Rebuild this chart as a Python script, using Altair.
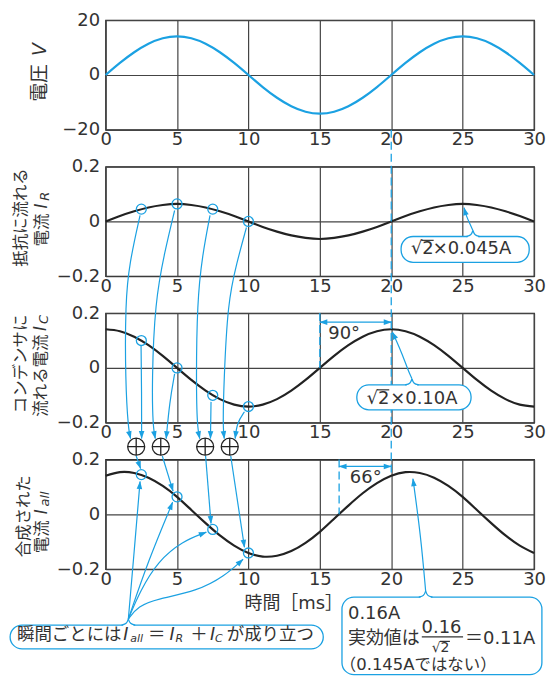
import math
import altair as alt
import pandas as pd

# ---------------- data ----------------
t_ms = [0, 1, 2, 3, 4, 5, 6, 7, 8, 9, 10, 11, 12, 13, 14, 15, 16, 17, 18, 19, 20,
        21, 22, 23, 24, 25, 26, 27, 28, 29, 30]
voltage = [0, 4.4, 8.3, 11.4, 13.4, 14.1, 13.4, 11.4, 8.3, 4.4, 0, -4.4, -8.3, -11.4,
           -13.4, -14.1, -13.4, -11.4, -8.3, -4.4, 0, 4.4, 8.3, 11.4, 13.4, 14.1, 13.4,
           11.4, 8.3, 4.4, 0]
i_r = [0, 0.020, 0.037, 0.051, 0.060, 0.064, 0.060, 0.051, 0.037, 0.020, 0, -0.020,
       -0.037, -0.051, -0.060, -0.064, -0.060, -0.051, -0.037, -0.020, 0, 0.020, 0.037,
       0.051, 0.060, 0.064, 0.060, 0.051, 0.037, 0.020, 0]
i_c = [0.141, 0.134, 0.114, 0.083, 0.044, 0, -0.044, -0.083, -0.114, -0.134, -0.141,
       -0.134, -0.114, -0.083, -0.044, 0, 0.044, 0.083, 0.114, 0.134, 0.141, 0.134,
       0.114, 0.083, 0.044, 0, -0.044, -0.083, -0.114, -0.134, -0.141]
i_all = [0.141, 0.154, 0.151, 0.134, 0.104, 0.064, 0.016, -0.032, -0.077, -0.114,
         -0.141, -0.154, -0.151, -0.134, -0.104, -0.064, -0.016, 0.032, 0.077, 0.114,
         0.141, 0.154, 0.151, 0.134, 0.104, 0.064, 0.016, -0.032, -0.077, -0.114, -0.141]

sample_t = [2.5, 5, 7.5, 10]
sample_ir = [0.045, 0.064, 0.045, 0.0]
sample_ic = [0.100, 0.0, -0.100, -0.141]
sample_iall = [0.145, 0.064, -0.055, -0.141]
plus_t = [2.14, 3.86, 6.97, 8.69]
plus_level = 0.247

x_ticks = [0, 5, 10, 15, 20, 25, 30]
v_ticks = [-20, 0, 20]
i_ticks = [-0.2, 0, 0.2]

# ---------------- layout / style ----------------
W, H, GAP = 430, 110, 37
BLUE = "#1BA1E2"
INK = "#222222"
TXT = "#333333"
FONT = "DejaVu Sans, Noto Sans CJK JP, sans-serif"
CJK = "Noto Sans CJK JP, sans-serif"

DOM = {"V": (-20.0, 20.0), "R": (-0.2, 0.2), "C": (-0.2, 0.2), "A": (-0.2, 0.2)}
IDX = {"V": 0, "R": 1, "C": 2, "A": 3}


def to_a(panel, v):
    """value in a panel's units -> equivalent value in the bottom panel's units"""
    lo, hi = DOM[panel]
    off = IDX[panel] * (H + GAP) + (hi - v) / (hi - lo) * H
    return 0.2 - (off - 3 * (H + GAP)) / H * 0.4


def pix(t, a):
    return t / 30 * W, (0.2 - a) / 0.4 * H


def unpix(x, y):
    return x / W * 30, 0.2 - y / H * 0.4


xs = alt.Scale(domain=[0, 30], nice=False, zero=False)
ys_i = alt.Scale(domain=[-0.2, 0.2], nice=False, zero=False)
ys_v = alt.Scale(domain=[-20, 20], nice=False, zero=False)
x_axis = alt.Axis(values=x_ticks, title=None, labelFlush=False, labelOverlap=False)


def y_axis(vals, fmt):
    return alt.Axis(values=vals, title=None, format=fmt, labelOverlap=False)


XA = alt.X("t:Q", scale=xs, axis=x_axis)
YA = alt.Y("y:Q", scale=ys_i, axis=y_axis(i_ticks, "~g"))

# ---------------- annotation geometry (ms, panel, value) ----------------
connectors = {
    "R1": [(2.41, "R", 0.022), (1.66, "R", -0.153), (1.38, "C", 0.24), (1.38, "C", -0.051), (1.59, "C", -0.225), (1.75, "C", -0.258)],
    "R2": [(4.83, "R", 0.040), (4.14, "R", -0.109), (3.45, "C", 0.24), (3.24, "C", -0.051), (3.31, "C", -0.215), (3.48, "C", -0.258)],
    "R3": [(7.31, "R", 0.022), (6.76, "R", -0.127), (6.41, "C", 0.24), (6.34, "C", -0.051), (6.41, "C", -0.215), (6.59, "C", -0.258)],
    "R4": [(9.86, "R", -0.022), (9.17, "R", -0.153), (8.55, "C", 0.24), (8.28, "C", -0.051), (8.21, "C", -0.215), (8.31, "C", -0.258)],
    "C1": [(2.48, "C", 0.080), (2.52, "C", -0.087), (2.52, "C", -0.258)],
    "C2": [(4.83, "C", -0.022), (4.48, "C", -0.124), (4.24, "C", -0.258)],
    "C3": [(7.38, "C", -0.124), (7.36, "C", -0.196), (7.34, "C", -0.258)],
    "C4": [(9.72, "C", -0.160), (9.20, "C", -0.200), (9.07, "C", -0.258)],
    "D1": [(2.14, "A", 0.213), (2.45, "A", 0.167)],
    "D2": [(3.97, "A", 0.213), (4.72, "A", 0.085)],
    "D3": [(7.00, "A", 0.213), (7.38, "A", -0.033)],
    "D4": [(8.76, "A", 0.213), (9.72, "A", -0.120)],
    "B1": [(1.59, "A", -0.382), (2.00, "A", -0.135), (2.41, "A", 0.120)],
    "B2": [(1.59, "A", -0.382), (2.97, "A", -0.171), (4.69, "A", 0.044)],
    "B3": [(1.59, "A", -0.382), (2.41, "A", -0.280), (3.66, "A", -0.171), (5.38, "A", -0.098), (7.05, "A", -0.065)],
    "B4": [(1.59, "A", -0.382), (2.28, "A", -0.335), (3.59, "A", -0.309), (6.41, "A", -0.280), (8.34, "A", -0.225), (9.62, "A", -0.164)],
    "PR": [(25.72, "R", -0.033), (25.52, "R", -0.010), (25.24, "R", 0.022), (25.10, "R", 0.050)],
    "PC": [(21.45, "C", -0.040), (21.17, "C", -0.007), (20.76, "C", 0.051), (20.34, "C", 0.102), (20.07, "C", 0.131)],
    "PA": [(22.41, "A", -0.280), (22.07, "A", -0.080), (21.52, "A", 0.130)],
}
double_arrows = {
    "H90": [(15.0, "C", 0.167), (20.0, "C", 0.167)],
    "H66": [(16.35, "A", 0.175), (20.0, "A", 0.175)],
}
dashed = {
    "DL20": [(20.0, "V", -20.0), (20.0, "A", 0.140)],
    "DL15": [(15.0, "C", 0.2), (15.0, "C", 0.0)],
    "DL66": [(16.35, "A", 0.2), (16.35, "A", 0.0)],
}
# boxes: t1, t2, panel, v_top, v_bottom, notch_t
boxes = [
    (20.69, 29.66, "R", -0.055, -0.149, 25.72),
    (17.59, 25.59, "C", -0.062, -0.153, 21.45),
    (-6.69, 15.24, "A", -0.404, -0.491, 1.59),
    (16.55, 30.55, "A", -0.302, -0.585, 22.41),
]
# overlines / fraction bar: t1, t2, panel, value
bars = [
    (22.10, 22.97, "R", -0.069),
    (19.00, 19.86, "C", -0.080),
    (23.41, 24.11, "A", -0.4636),
    (22.14, 25.03, "A", -0.447),
]


def path_rows(paths):
    rows = []
    for name, pts in paths.items():
        for i, (t, p, v) in enumerate(pts):
            rows.append({"id": name, "i": i, "t": t, "y": to_a(p, v)})
    return pd.DataFrame(rows)


def head(prev, end):
    x0, y0 = pix(*prev)
    x1, y1 = pix(*end)
    dx, dy = x1 - x0, y1 - y0
    L = math.hypot(dx, dy) or 1.0
    ux, uy = dx / L, dy / L
    t, y = unpix(x1 - ux * 3.5, y1 - uy * 3.5)
    return {"t": t, "y": y, "ang": math.degrees(math.atan2(ux, -uy)) % 360}


heads = []
for pts in connectors.values():
    a = [(t, to_a(p, v)) for t, p, v in pts]
    heads.append(head(a[-2], a[-1]))
for pts in double_arrows.values():
    a = [(t, to_a(p, v)) for t, p, v in pts]
    heads.append(head(a[0], a[1]))
    heads.append(head(a[1], a[0]))

notch_rows, cover_rows, box_rows = [], [], []
for k, (t1, t2, p, vt, vb, tn) in enumerate(boxes):
    box_rows.append({"t": t1, "t2": t2, "y": to_a(p, vt), "y2": to_a(p, vb)})
    cover_rows += [{"id": k, "i": 0, "t": tn - 0.36, "y": to_a(p, vt)},
                   {"id": k, "i": 1, "t": tn + 0.36, "y": to_a(p, vt)}]
    for side in (-1, 1):
        nid = f"{k}{side}"
        notch_rows += [
            {"id": nid, "i": 0, "t": tn + side * 0.48, "y": to_a(p, vt)},
            {"id": nid, "i": 1, "t": tn + side * 0.12, "y": to_a(p, vt + 0.004)},
            {"id": nid, "i": 2, "t": tn, "y": to_a(p, vt + 0.022)},
        ]

bar_rows = [{"id": k, "i": j, "t": tt, "y": to_a(p, v)}
            for k, (a, b, p, v) in enumerate(bars) for j, tt in enumerate((a, b))]


def lines(df, **kw):
    return alt.Chart(df).mark_line(**kw).encode(
        x=XA, y=YA, detail="id:N", order="i:Q")


def texts(rows, **kw):
    df = pd.DataFrame([{"t": t, "y": to_a(p, v), "txt": s} for t, p, v, s in rows])
    props = dict(color=TXT, baseline="middle", font=FONT, fontSize=18)
    props.update(kw)
    return alt.Chart(df).mark_text(**props).encode(x=XA, y=YA, text="txt:N")


# ---------------- texts ----------------
rot_center = [(-5.93, "R", 0.0145, "抵抗に流れる"), (-5.93, "C", 0.0145, "コンデンサに"),
              (-5.72, "A", -0.007, "合成された")]
rot_left = [(-4.48, "R", -0.091, "電流"), (-4.55, "C", -0.178, "流れる電流"),
            (-4.48, "A", -0.142, "電流")]
rot_italic = [(-4.48, "R", 0.047, "I"), (-4.55, "C", 0.135, "I"), (-4.48, "A", 0.0, "I")]
rot_sub = [(-4.26, "R", 0.076, "R"), (-4.33, "C", 0.160, "C"), (-4.26, "A", 0.029, "all")]

plain_left = [
    (22.90, "R", -0.102, "×0.045A"), (19.93, "C", -0.113, "×0.10A"),
    (21.38, "R", -0.102, "√2"), (18.28, "C", -0.113, "√2"),
    (15.59, "C", 0.124, "90°"), (17.10, "A", 0.131, "66°"),
    (16.97, "A", -0.364, "0.16A"), (16.97, "A", -0.455, "実効値は"),
    (25.17, "A", -0.455, "＝0.11A"),
]
plain_center = [(23.52, "A", -0.4145, "0.16"), (13.17, "A", -0.327, "時間［ms］")]
bubble_plain = [(-6.21, "A", -0.44, "瞬間ごとには"), (2.97, "A", -0.44, "＝"),
                (5.93, "A", -0.44, "＋"), (8.48, "A", -0.44, "が成り立つ")]
bubble_italic = [(1.24, "A", -0.44, "I"), (4.48, "A", -0.44, "I"), (7.31, "A", -0.44, "I")]
bubble_sub = [(1.72, "A", -0.455, "all"), (4.90, "A", -0.455, "R"), (7.66, "A", -0.455, "C")]

# ---------------- panels ----------------


def base_panel(values, yscale, yticks, fmt, color, samples=None):
    df = pd.DataFrame({"t": t_ms, "y": values})
    Y = alt.Y("y:Q", scale=yscale, axis=y_axis(yticks, fmt))
    lyr = [alt.Chart(df).mark_line(color=color, strokeWidth=2.2, interpolate="natural")
           .encode(x=XA, y=Y)]
    if samples is not None:
        sdf = pd.DataFrame({"t": sample_t, "y": samples})
        lyr.append(alt.Chart(sdf).mark_point(shape="circle", size=100, filled=False,
                                             color=BLUE, strokeWidth=1.3, opacity=1)
                   .encode(x=XA, y=Y))
    return lyr


p1 = alt.layer(*base_panel(voltage, ys_v, v_ticks, "d", BLUE)).properties(width=W, height=H)
p2 = alt.layer(*base_panel(i_r, ys_i, i_ticks, "~g", INK, sample_ir)).properties(width=W, height=H)
p3 = alt.layer(*base_panel(i_c, ys_i, i_ticks, "~g", INK, sample_ic)).properties(width=W, height=H)

plus_df = pd.DataFrame({"t": plus_t, "y": [plus_level] * 4})

overlay = base_panel(i_all, ys_i, i_ticks, "~g", INK, sample_iall) + [
    lines(path_rows(dashed), color=BLUE, strokeWidth=1.3, strokeDash=[8, 4]),
    alt.Chart(pd.DataFrame(box_rows)).mark_rect(cornerRadius=12, fill="white", stroke=BLUE,
                                                strokeWidth=1.3)
    .encode(x=XA, x2="t2:Q", y=YA, y2="y2:Q"),
    lines(pd.DataFrame(cover_rows), color="white", strokeWidth=3),
    lines(pd.DataFrame(notch_rows), color=BLUE, strokeWidth=1.3, interpolate="basis"),
    lines(path_rows(connectors), color=BLUE, strokeWidth=1.2, interpolate="basis"),
    lines(path_rows(double_arrows), color=BLUE, strokeWidth=1.2),
    lines(pd.DataFrame(bar_rows), color=TXT, strokeWidth=1.2),
    alt.Chart(pd.DataFrame(heads)).mark_point(shape="M0,-1L0.7,1L-0.7,1Z", size=64, filled=True,
                                              color=BLUE, opacity=1, strokeWidth=0)
    .encode(x=XA, y=YA, angle=alt.Angle("ang:Q", scale=None)),
    alt.Chart(plus_df).mark_point(shape="circle", size=290, filled=True, fill="white",
                                  stroke=INK, strokeWidth=1.3, opacity=1).encode(x=XA, y=YA),
    alt.Chart(plus_df).mark_point(shape="M-1,0L1,0M0,-1L0,1", size=300, filled=False,
                                  stroke=INK, strokeWidth=1.3, opacity=1).encode(x=XA, y=YA),
    texts([(-4.62, "V", -9.8, "電圧")], font=CJK, fontSize=19, angle=270, align="left"),
    texts([(-4.62, "V", 6.9, "V")], fontSize=19, fontStyle="italic", angle=270, align="left"),
    texts(rot_center, font=CJK, fontSize=16.5, angle=270, align="center"),
    texts(rot_left, font=CJK, fontSize=16.5, angle=270, align="left"),
    texts(rot_italic, fontSize=17, fontStyle="italic", angle=270, align="left"),
    texts(rot_sub, fontSize=13, fontStyle="italic", angle=270, align="left"),
    texts(plain_left, align="left"),
    texts(plain_center, align="center"),
    texts([(23.45, "A", -0.487, "√2")], fontSize=14, align="center"),
    texts([(16.40, "A", -0.549, "（0.145Aではない）")], fontSize=16.5, align="left"),
    texts(bubble_plain, fontSize=17.5, align="left"),
    texts(bubble_italic, fontSize=17.5, fontStyle="italic", align="left"),
    texts(bubble_sub, fontSize=11, fontStyle="italic", align="left"),
]
p4 = alt.layer(*overlay).properties(width=W, height=H)

chart = (
    alt.vconcat(p1, p2, p3, p4, spacing=GAP, bounds="flush")
    .properties(padding={"left": 0, "top": 1, "right": -1, "bottom": 0}, background="white")
    .configure_view(stroke=INK, strokeWidth=1.3)
    .configure_axis(labelFont="DejaVu Sans", labelFontSize=18, labelColor=TXT, ticks=False,
                    domain=False, grid=True, gridColor="#444444", gridWidth=1.2, gridOpacity=1)
    .configure_axisX(labelPadding=1)
    .configure_axisY(labelPadding=6)
)

chart.save("out.html", embed_options={"renderer": "svg", "actions": False})
